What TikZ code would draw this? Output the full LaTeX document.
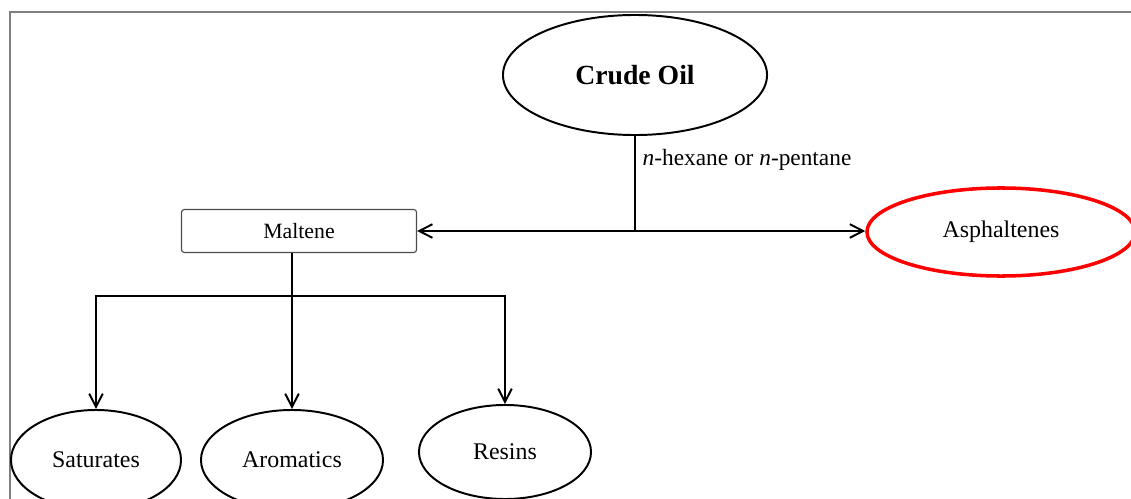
\documentclass[tikz,border=0pt]{standalone}
\usepackage{fontspec}
\setmainfont{Liberation Serif}
\usetikzlibrary{positioning,shapes.geometric,arrows.meta}

\begin{document}
\begin{tikzpicture}[x=0.025cm,y=-0.025cm,line width=1.4pt,
                    >={Straight Barb[length=3.3mm,width=3.4mm]}]
  \tikzstyle{oval}=[ellipse,draw=black,inner sep=0pt,font=\fontsize{17}{20}\selectfont]
  \tikzstyle{box}=[rectangle,rounded corners=2pt,draw=black!70,line width=0.8pt,
                   minimum width=5.875cm,minimum height=1.075cm,font=\fontsize{15.5}{18}\selectfont]

  \useasboundingbox (0,0) rectangle (1131,499);
  \clip (0,0) rectangle (1131,499);
  \draw[gray,line width=1.4pt] (1140,12) -- (10,12) -- (10,510);

  \node[oval,minimum width=6.6cm,minimum height=3cm,
        font=\fontsize{19.7}{23}\selectfont\bfseries]  (crude)   at (635,75)   {Crude Oil};
  \node[box]                                           (maltene) at (299,231)  {Maltene};
  \node[oval,draw=red,line width=2.5pt,
        minimum width=6.7cm,minimum height=2.2cm]      (asph)    at (1001,232) {Asphaltenes};
  \node[oval,minimum width=4.25cm,minimum height=2.5cm]  (sat)     at (96,460)   {Saturates};
  \node[oval,minimum width=4.55cm,minimum height=2.5cm]  (arom)    at (292,460)  {Aromatics};
  \node[oval,minimum width=4.3cm,minimum height=2.35cm]  (resins)  at (505,452)  {Resins};

  \coordinate (split)  at (635,231);
  \coordinate (branch) at (292,296);

  \node[anchor=west,font=\fontsize{16.6}{19}\selectfont] (solvent) at (637,160)
       {\textit{n}-hexane or \textit{n}-pentane};

  \draw (crude) -- (split);
  \draw[->] (split) -- (maltene);
  \draw[->] (split) -- (split -| asph.west);

  \draw (maltene.south -| branch) -- (branch);
  \draw[->] (branch) -| (sat);
  \draw[->] (branch) -- (arom);
  \draw[->] (branch) -| (resins);
\end{tikzpicture}
\end{document}
